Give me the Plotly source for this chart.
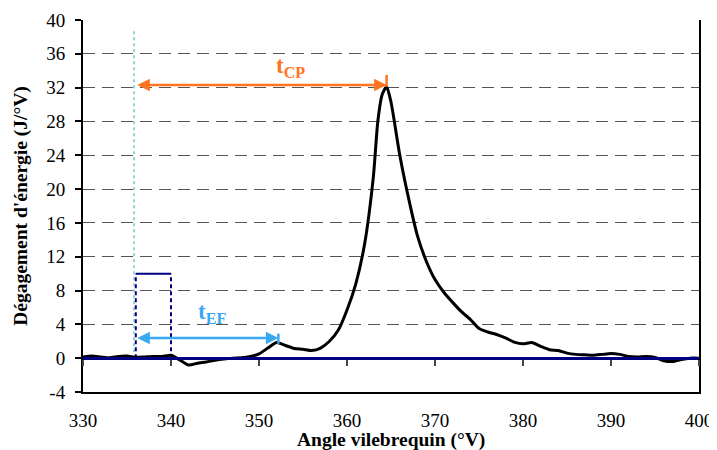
import plotly.graph_objects as go

# ---- data ----
angle = [330, 331, 332, 333, 334, 335, 336, 337, 338, 339, 340, 341, 342, 343, 344, 345,
         346, 347, 348, 349, 350, 351, 352, 353, 354, 355, 356, 357, 358, 359, 360, 361,
         362, 363, 363.5, 364, 364.5, 365, 366, 367, 368, 369, 370, 371, 372, 373, 374,
         375, 376, 377, 378, 379, 380, 381, 382, 383, 384, 385, 386, 387, 388, 389, 390,
         391, 392, 393, 394, 395, 396, 397, 398, 399, 400]
heat = [0.15, 0.25, 0.15, 0.05, 0.2, 0.25, 0.1, 0.15, 0.2, 0.2, 0.35, -0.2, -0.8, -0.6,
        -0.45, -0.25, -0.1, 0.0, 0.05, 0.2, 0.5, 1.2, 1.85, 1.5, 1.15, 1.05, 0.9, 1.2,
        2.0, 3.3, 5.7, 8.8, 13.5, 21.5, 28.0, 31.2, 32.1, 30.3, 24.0, 18.9, 14.5, 11.5,
        9.3, 7.8, 6.6, 5.5, 4.6, 3.5, 3.1, 2.8, 2.4, 1.9, 1.7, 1.85, 1.4, 1.0, 0.9, 0.6,
        0.45, 0.4, 0.35, 0.45, 0.55, 0.45, 0.2, 0.15, 0.2, 0.1, -0.3, -0.4, -0.15, 0.0, 0.0]

x_ticks = [330, 340, 350, 360, 370, 380, 390, 400]
y_ticks = [-4, 0, 4, 8, 12, 16, 20, 24, 28, 32, 36, 40]

# injection pulse
inj_start, inj_end, inj_level = 336, 340, 10
# start-of-injection marker
soi_x, soi_top = 335.8, 38.8
# t_CP arrow
tcp_start, tcp_end, tcp_level = 336, 364.5, 32.3
tcp_tick = [32.1, 33.5]
tcp_label_x, tcp_label_y = 353.6, 34.5
# t_EF arrow
tef_start, tef_end, tef_level = 336, 352.2, 2.4
tef_tick = [1.7, 2.9]
tef_label_x, tef_label_y = 344.7, 5.3

x_title = "Angle vilebrequin (°V)"
y_title = "Dégagement d'énergie (J/°V)"

ORANGE = "#ff7420"
BLUE = "#38a8f2"
NAVY = "#000080"
SERIF = "Liberation Serif"

fig = go.Figure()

# start of injection dotted line
fig.add_trace(go.Scatter(x=[soi_x, soi_x], y=[0, soi_top], mode="lines",
                         line=dict(color="#96d4d4", width=2, dash="dot"),
                         hoverinfo="skip", xaxis="x", yaxis="y"))
# injection pulse: verticals dashed, top solid
fig.add_trace(go.Scatter(x=[inj_start, inj_start], y=[0, inj_level], mode="lines",
                         line=dict(color=NAVY, width=2, dash="4px,3px"), xaxis="x", yaxis="y"))
fig.add_trace(go.Scatter(x=[inj_end, inj_end], y=[0, inj_level], mode="lines",
                         line=dict(color=NAVY, width=2, dash="4px,3px"), xaxis="x", yaxis="y"))
fig.add_trace(go.Scatter(x=[inj_start, inj_end], y=[inj_level, inj_level], mode="lines",
                         line=dict(color=NAVY, width=2), xaxis="x", yaxis="y"))

# main curve
fig.add_trace(go.Scatter(x=angle, y=heat, mode="lines",
                         line=dict(color="black", width=3, shape="spline", smoothing=0.6),
                         xaxis="x", yaxis="y"))

# end ticks of arrows
fig.add_trace(go.Scatter(x=[tcp_end, tcp_end], y=tcp_tick, mode="lines",
                         line=dict(color=ORANGE, width=2.5), xaxis="x", yaxis="y"))
fig.add_trace(go.Scatter(x=[tef_end, tef_end], y=tef_tick, mode="lines",
                         line=dict(color=BLUE, width=2.5), xaxis="x", yaxis="y"))

annotations = [
    dict(x=tcp_end, y=tcp_level, ax=tcp_start, ay=tcp_level, xref="x", yref="y",
         axref="x", ayref="y", text="", showarrow=True, arrowhead=2, startarrowhead=2,
         arrowside="end+start", arrowsize=1, arrowwidth=2.5, arrowcolor=ORANGE),
    dict(x=tef_end, y=tef_level, ax=tef_start, ay=tef_level, xref="x", yref="y",
         axref="x", ayref="y", text="", showarrow=True, arrowhead=2, startarrowhead=2,
         arrowside="end+start", arrowsize=1, arrowwidth=2.5, arrowcolor=BLUE),
    dict(x=tcp_label_x, y=tcp_label_y, xref="x", yref="y", showarrow=False,
         text="<b>t<sub>CP</sub></b>", font=dict(family=SERIF, size=23, color=ORANGE)),
    dict(x=tef_label_x, y=tef_label_y, xref="x", yref="y", showarrow=False,
         text="<b>t<sub>EF</sub></b>", font=dict(family=SERIF, size=23, color=BLUE)),
    dict(x=0.5, y=-0.129, xref="paper", yref="paper", showarrow=False,
         xanchor="center", yanchor="middle",
         text="<b>" + x_title + "</b>", font=dict(family=SERIF, size=19.5, color="black")),
    dict(x=-0.101, y=0.5, xref="paper", yref="paper", showarrow=False,
         xanchor="center", yanchor="middle", textangle=-90,
         text="<b>" + y_title + "</b>", font=dict(family=SERIF, size=19.5, color="black")),
]

# page body has an 8px default margin: figure is sized/offset to compensate
fig.update_layout(
    width=709, height=442,
    margin=dict(l=75, r=18, t=12, b=58, autoexpand=False),
    paper_bgcolor="white", plot_bgcolor="white",
    showlegend=False,
    annotations=annotations,
    font=dict(family=SERIF, color="black"),
    xaxis=dict(
        range=[330, 400], tickvals=x_ticks, ticktext=[str(v) for v in x_ticks],
        showgrid=False, zeroline=False, automargin=False,
        showline=True, linecolor="black", linewidth=2,
        ticks="outside", ticklen=10, tickcolor="rgba(0,0,0,0)",
        tickfont=dict(family=SERIF, size=19, color="black"),
    ),
    xaxis2=dict(
        range=[330, 400], tickvals=x_ticks, overlaying="x", anchor="free",
        position=4 / 44, showgrid=False, zeroline=False, automargin=False,
        showline=True, linecolor=NAVY, linewidth=2.5,
        ticks="outside", ticklen=6, tickcolor="#444", tickwidth=1.5,
        showticklabels=False,
    ),
    yaxis=dict(
        range=[-4, 40], tickvals=y_ticks, ticktext=[str(v) for v in y_ticks],
        showgrid=True, gridcolor="#555", griddash="12px,7px", gridwidth=1.3,
        zeroline=False, showline=True, linecolor="black", linewidth=2, mirror=True,
        automargin=False,
        ticks="outside", ticklen=6, tickcolor="black", tickwidth=1.5,
        ticklabelstandoff=6,
        tickfont=dict(family=SERIF, size=19, color="black"),
    ),
)

# dummy trace to activate xaxis2
fig.add_trace(go.Scatter(x=[330], y=[None], xaxis="x2", yaxis="y", showlegend=False,
                         hoverinfo="skip"))

fig.write_html("out.html")
